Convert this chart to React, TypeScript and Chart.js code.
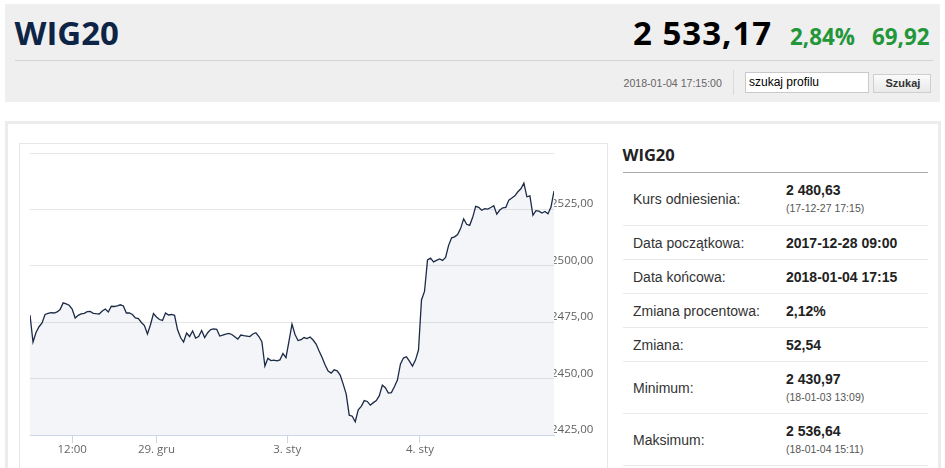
import React, { useEffect, useRef } from 'react';
import { Chart, registerables } from 'chart.js';

Chart.register(...registerables);

// ---- data ----
const VALUES = [
  2478.25, 2466.27, 2470.48, 2473.05, 2474.7, 2478.47, 2478.91, 2479.27, 2479.13, 2479.58,
  2480.69, 2483.6, 2483.13, 2482.55, 2480.91, 2476.92, 2478.11, 2478.69, 2479.0, 2479.71,
  2479.8, 2479.0, 2478.82, 2478.69, 2480.02, 2480.91, 2479.58, 2482.11, 2482.02, 2482.24,
  2482.77, 2482.24, 2479.13, 2479.13, 2478.47, 2476.92, 2476.69, 2474.92, 2473.59, 2469.82,
  2473.94, 2478.91, 2477.36, 2476.25, 2475.81, 2479.13, 2478.25, 2478.47, 2478.11, 2471.68,
  2468.26, 2466.27, 2470.26, 2468.71, 2471.15, 2468.04, 2468.71, 2471.37, 2468.26, 2470.39,
  2471.77, 2472.12, 2471.9, 2468.93, 2469.37, 2469.82, 2470.1, 2469.6, 2468.62, 2467.6,
  2469.37, 2469.06, 2468.93, 2468.71, 2469.82, 2470.39, 2468.71, 2466.4, 2455.62, 2459.03,
  2458.06, 2458.28, 2457.9, 2458.37, 2461.16, 2459.39, 2466.71, 2474.25, 2469.59, 2466.93,
  2467.3, 2468.26, 2467.82, 2468.48, 2467.15, 2465.38, 2462.27, 2459.39, 2456.06, 2453.4,
  2452.51, 2453.97, 2453.49, 2451.62, 2447.63, 2443.19, 2433.87, 2433.43, 2430.97, 2436.22,
  2437.78, 2440.31, 2439.95, 2438.31, 2439.42, 2440.31, 2442.53, 2447.18, 2446.07, 2443.64,
  2443.86, 2446.43, 2449.4, 2456.5, 2459.17, 2459.74, 2457.83, 2455.62, 2458.28, 2462.72,
  2484.9, 2488.67, 2502.65, 2503.41, 2501.76, 2502.43, 2503.1, 2502.43, 2503.76, 2509.09,
  2512.41, 2512.86, 2513.88, 2516.63, 2520.85, 2518.41, 2517.96, 2521.51, 2526.39, 2525.95,
  2524.62, 2525.37, 2525.15, 2525.86, 2526.61, 2522.93, 2524.75, 2525.73, 2525.95, 2529.14,
  2530.03, 2531.05, 2532.83, 2534.16, 2536.64, 2530.61, 2531.05, 2522.4, 2524.48, 2524.26,
  2523.38, 2524.09, 2523.06, 2526.08, 2533.17,
];

const TICK_POS = [14, 42, 85.4, 129.5];
const TICK_LABELS = ['12:00', '29. gru', '3. sty', '4. sty'];

const Y_MIN = 2425;
const Y_MAX = 2550;
const Y_STEP = 25;

const TITLE = 'WIG20';
const PRICE = '2 533,17';
const CHANGE_PCT = '2,84%';
const CHANGE_ABS = '69,92';
const TIMESTAMP = '2018-01-04 17:15:00';
const SEARCH_PLACEHOLDER = 'szukaj profilu';
const SEARCH_BUTTON = 'Szukaj';

const TABLE_LABELS = [
  'Kurs odniesienia:',
  'Data początkowa:',
  'Data końcowa:',
  'Zmiana procentowa:',
  'Zmiana:',
  'Minimum:',
  'Maksimum:',
];
const TABLE_VALUES = [
  '2 480,63',
  '2017-12-28 09:00',
  '2018-01-04 17:15',
  '2,12%',
  '52,54',
  '2 430,97',
  '2 536,64',
];
const TABLE_NOTES = ['(17-12-27 17:15)', '', '', '', '', '(18-01-03 13:09)', '(18-01-04 15:11)'];

// ---- layout helpers ----
const OPEN = '"Open Sans", sans-serif';
const ARIAL = '"Liberation Sans", Arial, sans-serif';
const K_OPEN = 0.888;
const K_ARIAL = 0.8465;

function Txt(props: {
  x: number; base: number; size: number; family: string; k: number;
  weight?: number | string; color?: string; ls?: number; children: React.ReactNode;
}) {
  const { x, base, size, family, k, weight = 400, color = '#000', ls = 0, children } = props;
  return (
    <div
      style={{
        position: 'absolute', left: x, top: base - k * size, fontSize: size,
        lineHeight: `${size}px`, fontFamily: family, fontWeight: weight as any, color,
        whiteSpace: 'nowrap', letterSpacing: ls,
      }}
    >
      {children}
    </div>
  );
}

function ChartBox() {
  const ref = useRef<HTMLCanvasElement | null>(null);
  useEffect(() => {
    if (!ref.current) return;
    const chart = new Chart(ref.current, {
      type: 'line',
      data: {
        datasets: [
          {
            data: VALUES.map((v, i) => ({ x: i, y: v })),
            borderColor: '#1b2a47',
            borderWidth: 1.3,
            pointRadius: 0,
            tension: 0,
            fill: 'start',
            backgroundColor: 'rgba(30,60,120,0.05)',
          },
        ],
      },
      options: {
        animation: false,
        responsive: false,
        maintainAspectRatio: false,
        events: [],
        layout: { padding: { left: 10, top: 9, right: 0, bottom: 11 } },
        plugins: { legend: { display: false }, tooltip: { enabled: false } },
        scales: {
          x: {
            type: 'linear',
            min: 0,
            max: VALUES.length - 1,
            afterBuildTicks: (s: any) => {
              s.ticks = TICK_POS.map((v) => ({ value: v }));
            },
            ticks: {
              autoSkip: false,
              maxRotation: 0,
              padding: 0,
              color: '#666666',
              font: { family: 'Open Sans', size: 11.5 },
              callback: (_v: any, i: number) => TICK_LABELS[i],
            },
            grid: { drawOnChartArea: false, drawTicks: true, tickLength: 8, color: '#ccd6eb' },
            border: { display: true, color: '#ccd6eb' },
          },
          y: {
            position: 'right',
            min: Y_MIN,
            max: Y_MAX,
            afterFit: (s: any) => {
              s.width = 52;
            },
            ticks: {
              stepSize: Y_STEP,
              padding: -3,
              labelOffset: -5.5,
              color: '#606060',
              font: { family: 'Open Sans', size: 11.5 },
              callback: (v: any) => (Number(v) === Y_MAX ? '' : Number(v).toFixed(2).replace('.', ',')),
            },
            grid: {
              drawTicks: false,
              color: (c: any) => (c.tick && c.tick.value === Y_MIN ? 'rgba(0,0,0,0)' : '#e6e6e6'),
            },
            border: { display: false },
          },
        },
      } as any,
    });
    return () => chart.destroy();
  }, []);
  return <canvas ref={ref} width={586} height={324} style={{ display: 'block', width: 586, height: 324 }} />;
}

const ROW_H = [53, 34, 34, 34, 34, 52, 52];

export default function App() {
  return (
    <div
      style={{
        position: 'absolute', left: 0, top: 0, width: 945, height: 468, overflow: 'hidden',
        background: '#ffffff', fontFamily: ARIAL,
      }}
    >
      {/* header */}
      <div style={{ position: 'absolute', left: 5, top: 4, width: 935, height: 98, background: '#efefef' }} />
      <div style={{ position: 'absolute', left: 15, top: 60, width: 918, height: 1, background: '#d4d4d4' }} />
      <Txt x={14.5} base={45} size={33} family={OPEN} k={K_OPEN} weight={700} color="#0d2446">{TITLE}</Txt>
      <Txt x={633} base={45.5} size={33} family={OPEN} k={K_OPEN} weight={700} color="#000" ls={1}>{PRICE}</Txt>
      <Txt x={790} base={45.5} size={22.4} family={OPEN} k={K_OPEN} weight={700} color="#24963a">{CHANGE_PCT}</Txt>
      <Txt x={872} base={45.5} size={22.4} family={OPEN} k={K_OPEN} weight={700} color="#24963a">{CHANGE_ABS}</Txt>
      <Txt x={623.5} base={86.5} size={10.6} family={ARIAL} k={K_ARIAL} color="#666">{TIMESTAMP}</Txt>
      <div style={{ position: 'absolute', left: 733, top: 70, width: 1, height: 25, background: '#d9d9d9' }} />
      <div
        style={{
          position: 'absolute', left: 745, top: 72, width: 124, height: 21, boxSizing: 'border-box',
          background: '#fff', border: '1px solid #c9c9c9',
        }}
      />
      <Txt x={749} base={86.5} size={12} family={ARIAL} k={K_ARIAL} color="#000">{SEARCH_PLACEHOLDER}</Txt>
      <div
        style={{
          position: 'absolute', left: 873, top: 73.5, width: 58, height: 19.5, boxSizing: 'border-box',
          background: 'linear-gradient(#fbfbfb, #e9e9e9)', border: '1px solid #cfcfcf',
        }}
      />
      <Txt x={885.5} base={87.5} size={11} family={ARIAL} k={K_ARIAL} weight={700} color="#333">{SEARCH_BUTTON}</Txt>

      {/* panel */}
      <div
        style={{
          position: 'absolute', left: 5, top: 121, width: 936, height: 400, boxSizing: 'border-box',
          border: '3px solid #ececec',
        }}
      />
      <div
        style={{
          position: 'absolute', left: 19, top: 143, width: 589, height: 400, boxSizing: 'border-box',
          border: '1px solid #e6e6e6',
        }}
      />
      <div style={{ position: 'absolute', left: 20, top: 144 }}>
        <ChartBox />
      </div>

      {/* side table */}
      <Txt x={622.5} base={162} size={16.5} family={OPEN} k={K_OPEN} weight={700} color="#222">{TITLE}</Txt>
      <div style={{ position: 'absolute', left: 623, top: 172, width: 305, height: 1, background: '#a8a8a8' }} />
      <div style={{ position: 'absolute', left: 623, top: 173, width: 305 }}>
        {TABLE_LABELS.map((lab, i) => (
          <div
            key={i}
            style={{
              position: 'relative', height: ROW_H[i], boxSizing: 'border-box',
              borderBottom: '1px solid #e9e9e9',
            }}
          >
            <div
              style={{
                position: 'absolute', left: 10, top: 0, height: ROW_H[i] - 1, display: 'flex',
                alignItems: 'center', fontSize: 14, lineHeight: '16px', color: '#333', whiteSpace: 'nowrap',
              }}
            >
              {lab}
            </div>
            <div
              style={{
                position: 'absolute', left: 163, top: 0, height: ROW_H[i] - 1, display: 'flex',
                flexDirection: 'column', justifyContent: 'center', whiteSpace: 'nowrap',
              }}
            >
              <div style={{ fontSize: 14, lineHeight: TABLE_NOTES[i] ? '15px' : '16px', fontWeight: 700, color: '#222' }}>
                {TABLE_VALUES[i]}
              </div>
              {TABLE_NOTES[i] ? (
                <div style={{ fontSize: 10.5, lineHeight: '13px', marginTop: 4, color: '#555' }}>{TABLE_NOTES[i]}</div>
              ) : null}
            </div>
          </div>
        ))}
      </div>
    </div>
  );
}
